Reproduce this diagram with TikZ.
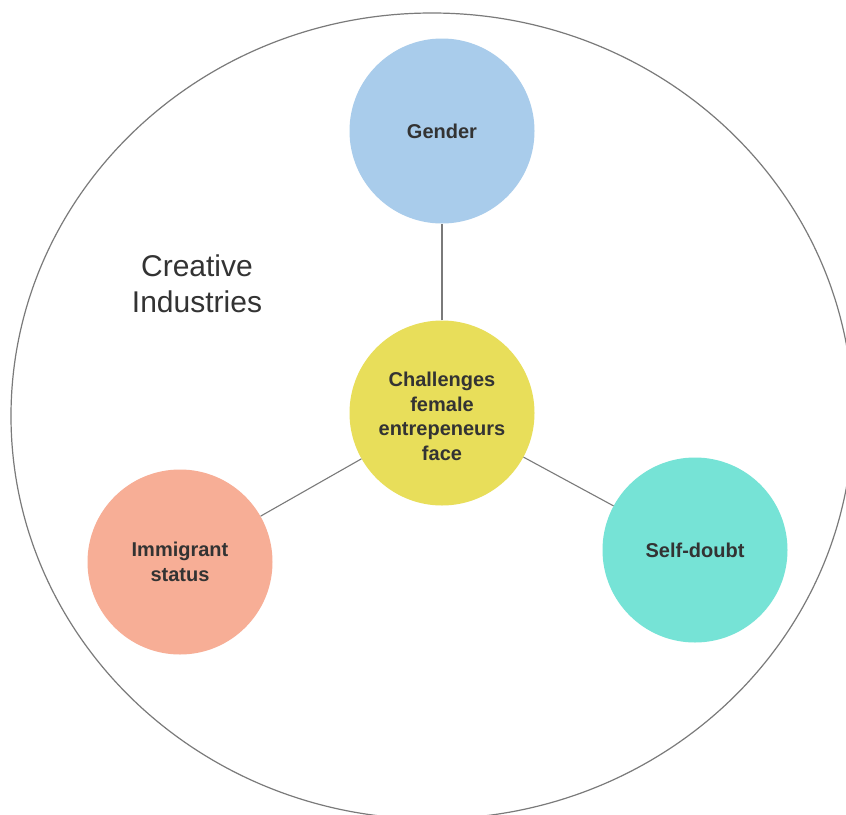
\documentclass[tikz,border=0pt]{standalone}
\usepackage{fontspec}
\setmainfont{Liberation Sans}
\definecolor{ink}{HTML}{333333}
\definecolor{rim}{HTML}{7A7A7A}
\definecolor{genderblue}{HTML}{A9CCEB}
\definecolor{coreyellow}{HTML}{E8DE5A}
\definecolor{salmon}{HTML}{F7AE96}
\definecolor{aqua}{HTML}{76E3D6}
\tikzset{
  topictext/.style={align=center, text=ink, font=\fontsize{20}{24.5}\selectfont\bfseries},
  topic/.style={circle, draw=none, minimum size=185pt, inner sep=0pt, topictext},
  link/.style={draw=rim, line width=1.1pt},
}
\begin{document}
\begin{tikzpicture}[x=1pt, y=-1pt]
  \useasboundingbox (0,0) rectangle (846,814);
  \clip (0,0) rectangle (846,814);
  \fill[white] (0,0) rectangle (846,814);

  % surrounding field
  \draw[rim, line width=1.2pt] (432,416) ellipse [x radius=421pt, y radius=403pt];
  \node[text=ink, align=center, font=\fontsize{30}{36}\selectfont] (field) at (197,284)
    {Creative\\Industries};

  % topics
  \node[topic, fill=coreyellow,
        label={[topictext, yshift=-3.5pt]center:{Challenges\\female\\entrepeneurs\\face}}]
    (core) at (442,413) {};
  \node[topic, fill=genderblue] (gender) at (442,131) {Gender};
  \node[topic, fill=salmon] (immigrant) at (180,562) {Immigrant\\status};
  \node[topic, fill=aqua] (doubt) at (695,550) {Self-doubt};

  % connectors
  \draw[link] (core) -- (gender);
  \draw[link] (core) -- (immigrant);
  \draw[link] (core) -- (doubt);
\end{tikzpicture}
\end{document}
